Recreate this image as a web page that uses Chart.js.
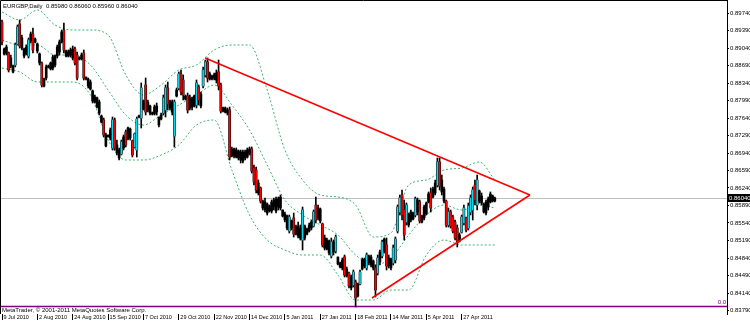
<!DOCTYPE html>
<html>
<head>
<meta charset="utf-8">
<script src="https://cdn.jsdelivr.net/npm/chart.js@4.4.0/dist/chart.umd.min.js"></script>
<style>
html, body { margin: 0; padding: 0; background: #fff; overflow: hidden; }
</style>
</head>
<body>
<canvas id="mtChart" width="750" height="324"></canvas>
<script>
const symbolName = 'EURGBP,Daily';
const dateLabels = ['9 Jul 2010', '2 Aug 2010', '24 Aug 2010', '15 Sep 2010', '7 Oct 2010', '29 Oct 2010', '22 Nov 2010',
    '14 Dec 2010', '5 Jan 2011', '27 Jan 2011', '18 Feb 2011', '14 Mar 2011', '5 Apr 2011', '27 Apr 2011'];
const barsPerDateLabel = 16;
const yTicks = [0.8974, 0.8939, 0.8904, 0.8869, 0.8834, 0.8799, 0.8764, 0.8729, 0.8694,
    0.8659, 0.8624, 0.8589, 0.8554, 0.8519, 0.8484, 0.8449, 0.8414, 0.8379];

const high = [0.8960,0.8904,0.8910,0.8896,0.8890,0.8870,0.8914,0.8950,0.8960,0.8930,
    0.8904,0.8910,0.8924,0.8936,0.8944,0.8924,0.8914,0.8894,0.8876,0.8844,
    0.8870,0.8870,0.8876,0.8890,0.8890,0.8910,0.8920,0.8940,0.8954,0.8900,
    0.8900,0.8904,0.8908,0.8906,0.8896,0.8886,0.8894,0.8900,0.8846,0.8844,
    0.8840,0.8820,0.8810,0.8806,0.8800,0.8770,0.8764,0.8734,0.8730,0.8744,
    0.8766,0.8764,0.8720,0.8704,0.8720,0.8730,0.8740,0.8746,0.8744,0.8720,
    0.8734,0.8766,0.8770,0.8834,0.8800,0.8844,0.8800,0.8790,0.8776,0.8790,
    0.8794,0.8766,0.8774,0.8810,0.8830,0.8836,0.8800,0.8800,0.8800,0.8824,
    0.8856,0.8860,0.8850,0.8810,0.8814,0.8810,0.8806,0.8810,0.8840,0.8830,
    0.8816,0.8866,0.8880,0.8884,0.8856,0.8850,0.8854,0.8860,0.8880,0.8834,
    0.8786,0.8786,0.8784,0.8786,0.8706,0.8704,0.8704,0.8700,0.8700,0.8700,
    0.8700,0.8704,0.8706,0.8706,0.8670,0.8666,0.8640,0.8626,0.8600,0.8604,
    0.8594,0.8590,0.8600,0.8604,0.8606,0.8606,0.8610,0.8580,0.8576,0.8570,
    0.8570,0.8560,0.8574,0.8550,0.8556,0.8550,0.8586,0.8550,0.8544,0.8554,
    0.8560,0.8580,0.8606,0.8590,0.8584,0.8554,0.8530,0.8524,0.8520,0.8524,
    0.8520,0.8530,0.8486,0.8476,0.8484,0.8490,0.8466,0.8456,0.8450,0.8460,
    0.8440,0.8434,0.8460,0.8484,0.8484,0.8494,0.8490,0.8490,0.8480,0.8470,
    0.8490,0.8500,0.8520,0.8524,0.8524,0.8490,0.8484,0.8510,0.8526,0.8590,
    0.8610,0.8620,0.8600,0.8594,0.8574,0.8580,0.8576,0.8606,0.8604,0.8600,
    0.8570,0.8590,0.8596,0.8616,0.8624,0.8626,0.8640,0.8684,0.8684,0.8650,
    0.8626,0.8600,0.8584,0.8580,0.8570,0.8560,0.8550,0.8534,0.8570,0.8590,
    0.8566,0.8594,0.8610,0.8626,0.8640,0.8650,0.8620,0.8614,0.8594,0.8600,
    0.8606,0.8616,0.8610,0.8606];
const low = [0.8910,0.8890,0.8890,0.8856,0.8864,0.8854,0.8866,0.8910,0.8904,0.8900,
    0.8884,0.8890,0.8884,0.8914,0.8894,0.8914,0.8894,0.8870,0.8826,0.8826,
    0.8840,0.8864,0.8860,0.8860,0.8866,0.8884,0.8890,0.8914,0.8894,0.8886,
    0.8886,0.8886,0.8880,0.8870,0.8840,0.8880,0.8880,0.8840,0.8840,0.8824,
    0.8820,0.8794,0.8794,0.8784,0.8770,0.8754,0.8726,0.8706,0.8726,0.8720,
    0.8700,0.8700,0.8690,0.8680,0.8690,0.8700,0.8706,0.8720,0.8720,0.8686,
    0.8704,0.8686,0.8764,0.8744,0.8780,0.8770,0.8776,0.8770,0.8770,0.8770,
    0.8770,0.8746,0.8760,0.8770,0.8766,0.8780,0.8780,0.8770,0.8706,0.8806,
    0.8820,0.8810,0.8800,0.8800,0.8774,0.8780,0.8780,0.8786,0.8784,0.8790,
    0.8784,0.8824,0.8846,0.8836,0.8840,0.8840,0.8840,0.8834,0.8820,0.8774,
    0.8776,0.8774,0.8770,0.8680,0.8686,0.8684,0.8684,0.8680,0.8674,0.8674,
    0.8680,0.8684,0.8690,0.8654,0.8630,0.8614,0.8610,0.8594,0.8580,0.8576,
    0.8570,0.8576,0.8574,0.8580,0.8574,0.8580,0.8580,0.8566,0.8556,0.8540,
    0.8534,0.8540,0.8526,0.8530,0.8524,0.8520,0.8500,0.8520,0.8530,0.8536,
    0.8540,0.8546,0.8554,0.8560,0.8554,0.8506,0.8500,0.8500,0.8490,0.8484,
    0.8490,0.8494,0.8470,0.8464,0.8460,0.8446,0.8446,0.8424,0.8420,0.8426,
    0.8386,0.8406,0.8430,0.8460,0.8464,0.8460,0.8470,0.8466,0.8460,0.8406,
    0.8450,0.8470,0.8484,0.8494,0.8460,0.8464,0.8460,0.8470,0.8474,0.8534,
    0.8570,0.8560,0.8520,0.8550,0.8546,0.8556,0.8560,0.8566,0.8570,0.8554,
    0.8554,0.8560,0.8570,0.8594,0.8576,0.8604,0.8610,0.8626,0.8620,0.8610,
    0.8594,0.8546,0.8546,0.8544,0.8534,0.8520,0.8506,0.8516,0.8534,0.8550,
    0.8536,0.8540,0.8570,0.8560,0.8590,0.8580,0.8594,0.8590,0.8574,0.8570,
    0.8580,0.8594,0.8596,0.8596];
const open = [0.8956,0.8902,0.8894,0.8894,0.8868,0.8868,0.8870,0.8912,0.8952,0.8904,
    0.8902,0.8892,0.8888,0.8918,0.8932,0.8922,0.8912,0.8892,0.8874,0.8828,
    0.8844,0.8868,0.8862,0.8864,0.8870,0.8888,0.8896,0.8916,0.8940,0.8898,
    0.8888,0.8900,0.8884,0.8902,0.8890,0.8882,0.8882,0.8894,0.8846,0.8842,
    0.8836,0.8818,0.8796,0.8804,0.8796,0.8768,0.8760,0.8708,0.8730,0.8724,
    0.8704,0.8760,0.8710,0.8700,0.8692,0.8704,0.8736,0.8722,0.8742,0.8718,
    0.8706,0.8700,0.8768,0.8764,0.8782,0.8830,0.8796,0.8788,0.8772,0.8772,
    0.8788,0.8766,0.8762,0.8774,0.8780,0.8824,0.8784,0.8796,0.8728,0.8808,
    0.8824,0.8852,0.8840,0.8802,0.8808,0.8784,0.8802,0.8808,0.8790,0.8826,
    0.8812,0.8828,0.8850,0.8876,0.8852,0.8842,0.8844,0.8840,0.8856,0.8830,
    0.8778,0.8784,0.8774,0.8780,0.8688,0.8702,0.8686,0.8698,0.8696,0.8678,
    0.8696,0.8686,0.8692,0.8702,0.8664,0.8660,0.8614,0.8624,0.8598,0.8580,
    0.8592,0.8578,0.8578,0.8600,0.8578,0.8602,0.8584,0.8580,0.8572,0.8568,
    0.8538,0.8558,0.8564,0.8532,0.8548,0.8544,0.8520,0.8548,0.8532,0.8538,
    0.8556,0.8548,0.8590,0.8564,0.8582,0.8552,0.8504,0.8502,0.8518,0.8488,
    0.8516,0.8498,0.8486,0.8474,0.8464,0.8486,0.8448,0.8454,0.8446,0.8430,
    0.8436,0.8432,0.8432,0.8462,0.8482,0.8464,0.8488,0.8470,0.8478,0.8464,
    0.8454,0.8476,0.8488,0.8522,0.8510,0.8468,0.8482,0.8474,0.8480,0.8538,
    0.8576,0.8610,0.8580,0.8556,0.8572,0.8560,0.8562,0.8570,0.8600,0.8596,
    0.8568,0.8564,0.8572,0.8596,0.8614,0.8606,0.8614,0.8630,0.8676,0.8640,
    0.8622,0.8598,0.8550,0.8576,0.8566,0.8556,0.8544,0.8518,0.8536,0.8554,
    0.8564,0.8544,0.8576,0.8580,0.8630,0.8590,0.8618,0.8594,0.8592,0.8574,
    0.8602,0.8596,0.8608,0.8598];
const close = [0.8916,0.8892,0.8906,0.8860,0.8884,0.8856,0.8910,0.8946,0.8908,0.8924,
    0.8888,0.8906,0.8920,0.8932,0.8900,0.8916,0.8898,0.8874,0.8830,0.8842,
    0.8866,0.8866,0.8874,0.8886,0.8888,0.8906,0.8916,0.8936,0.8900,0.8888,
    0.8896,0.8890,0.8902,0.8874,0.8844,0.8884,0.8890,0.8844,0.8842,0.8828,
    0.8822,0.8798,0.8806,0.8786,0.8774,0.8756,0.8730,0.8730,0.8726,0.8740,
    0.8760,0.8704,0.8694,0.8684,0.8716,0.8726,0.8710,0.8744,0.8724,0.8690,
    0.8732,0.8762,0.8766,0.8824,0.8798,0.8776,0.8780,0.8774,0.8774,0.8786,
    0.8776,0.8750,0.8770,0.8804,0.8824,0.8792,0.8798,0.8776,0.8796,0.8820,
    0.8852,0.8816,0.8810,0.8808,0.8780,0.8804,0.8786,0.8788,0.8834,0.8800,
    0.8788,0.8860,0.8876,0.8844,0.8842,0.8848,0.8850,0.8854,0.8828,0.8778,
    0.8784,0.8776,0.8780,0.8686,0.8702,0.8688,0.8700,0.8684,0.8680,0.8696,
    0.8684,0.8700,0.8702,0.8658,0.8636,0.8620,0.8634,0.8598,0.8584,0.8596,
    0.8574,0.8588,0.8596,0.8586,0.8602,0.8586,0.8606,0.8568,0.8560,0.8544,
    0.8566,0.8544,0.8532,0.8546,0.8528,0.8524,0.8580,0.8524,0.8542,0.8550,
    0.8544,0.8576,0.8560,0.8584,0.8558,0.8510,0.8524,0.8520,0.8494,0.8516,
    0.8496,0.8526,0.8472,0.8466,0.8480,0.8450,0.8462,0.8428,0.8424,0.8456,
    0.8404,0.8408,0.8456,0.8480,0.8468,0.8490,0.8474,0.8486,0.8464,0.8420,
    0.8484,0.8496,0.8516,0.8498,0.8468,0.8484,0.8464,0.8504,0.8522,0.8586,
    0.8604,0.8570,0.8530,0.8590,0.8550,0.8576,0.8574,0.8602,0.8576,0.8558,
    0.8556,0.8586,0.8594,0.8612,0.8584,0.8622,0.8634,0.8676,0.8628,0.8616,
    0.8598,0.8550,0.8576,0.8548,0.8538,0.8524,0.8514,0.8530,0.8566,0.8584,
    0.8540,0.8588,0.8604,0.8620,0.8600,0.8640,0.8598,0.8608,0.8576,0.8596,
    0.8586,0.8612,0.8598,0.8604];

// bollinger bands, read every 8 bars
const bandIdx = [0,8,16,24,32,40,48,56,64,72,80,88,96,104,112,120,128,136,144,152,160,168,176,184,192,200,208,216,223];
const bandUpper = [0.8976,0.8960,0.8980,0.8950,0.8940,0.8940,0.8930,0.8850,0.8810,0.8830,0.8860,0.8870,0.8900,0.8910,
    0.8910,0.8820,0.8700,0.8640,0.8610,0.8606,0.8590,0.8526,0.8534,0.8630,0.8640,0.8660,0.8664,0.8676,0.8640];
const bandMiddle = [0.8920,0.8910,0.8910,0.8890,0.8890,0.8870,0.8820,0.8770,0.8750,0.8770,0.8790,0.8810,0.8830,0.8790,
    0.8740,0.8670,0.8600,0.8570,0.8550,0.8530,0.8490,0.8470,0.8484,0.8530,0.8570,0.8590,0.8580,0.8590,0.8584];
const bandLower = [0.8864,0.8856,0.8836,0.8836,0.8836,0.8810,0.8720,0.8680,0.8680,0.8690,0.8710,0.8750,0.8760,0.8660,
    0.8570,0.8520,0.8500,0.8490,0.8490,0.8450,0.8400,0.8400,0.8420,0.8420,0.8490,0.8520,0.8510,0.8510,0.8510];

// triangle drawn on the chart: bar index and price of its corners
const trendIdx = [91.9, 238.9, 167.4];
const trendPrice = [0.8884, 0.8610, 0.8404];
const levelValue = 0.8388;

const lastBar = close.length - 1;
const lastPrice = close[lastBar];
const fmt = v => v.toFixed(5);
const FONT = 'Liberation Sans';

const wickData = high.map((h, i) => ({ x: i, y: [low[i], h] }));
const bodyData = open.map((o, i) => ({ x: i, y: [o, close[i]] }));
const accentColors = open.map((o, i) => Math.abs(close[i] - o) < 0.0024 ? 'rgba(0,0,0,0)' : (close[i] > o ? '#12d6ea' : '#ff0000'));
const bandPoints = arr => arr.map((v, k) => ({ x: bandIdx[k], y: v }));

const mtPlugin = {
    id: 'mtPlugin',
    beforeDatasetsDraw(chart) {
        const { ctx, chartArea: a, scales: { y } } = chart;
        ctx.save();
        const py = Math.round(y.getPixelForValue(lastPrice)) + 0.5;
        ctx.strokeStyle = '#c0c0c0';
        ctx.lineWidth = 1;
        ctx.beginPath(); ctx.moveTo(a.left, py); ctx.lineTo(a.right, py); ctx.stroke();
        const ly = Math.round(y.getPixelForValue(levelValue)) + 0.5;
        ctx.strokeStyle = '#800080';
        ctx.lineWidth = 1.5;
        ctx.beginPath(); ctx.moveTo(a.left, ly); ctx.lineTo(a.right, ly); ctx.stroke();
        ctx.restore();
    },
    afterDraw(chart) {
        const { ctx, chartArea: a, scales: { y } } = chart;
        ctx.save();
        ctx.strokeStyle = '#000';
        ctx.lineWidth = 1;
        ctx.beginPath();
        ctx.moveTo(a.left + 0.5, a.bottom); ctx.lineTo(a.left + 0.5, a.top + 0.5); ctx.lineTo(a.right, a.top + 0.5);
        ctx.stroke();
        ctx.font = '6px "' + FONT + '"';
        ctx.fillStyle = '#000';
        ctx.textBaseline = 'middle';
        ctx.textAlign = 'left';
        const title = symbolName + '  ' + [open[lastBar], high[lastBar], low[lastBar], close[lastBar]].map(fmt).join(' ');
        ctx.fillText(title, 3, 6);
        ctx.fillText('MetaTrader, \u00a9 2001-2011 MetaQuotes Software Corp.', 2, 310);
        const ly = y.getPixelForValue(levelValue);
        ctx.fillStyle = '#800080';
        ctx.textAlign = 'right';
        ctx.fillText('0.0', a.right - 1, ly - 4);
        // current price box
        const py = Math.round(y.getPixelForValue(lastPrice));
        ctx.fillStyle = '#000';
        ctx.fillRect(a.right + 1, py - 4, 750 - a.right - 1, 8);
        ctx.fillStyle = '#fff';
        ctx.textAlign = 'left';
        ctx.fillText(fmt(lastPrice), a.right + 2, py + 0.5);
        ctx.restore();
    }
};

new Chart(document.getElementById('mtChart'), {
    type: 'bar',
    data: {
        datasets: [
            { type: 'line', data: bandPoints(bandUpper), borderColor: '#3cb371', borderWidth: 1, borderDash: [2, 2], pointRadius: 0, cubicInterpolationMode: 'monotone', order: 6 },
            { type: 'line', data: bandPoints(bandMiddle), borderColor: '#3cb371', borderWidth: 1, borderDash: [2, 2], pointRadius: 0, cubicInterpolationMode: 'monotone', order: 6 },
            { type: 'line', data: bandPoints(bandLower), borderColor: '#3cb371', borderWidth: 1, borderDash: [2, 2], pointRadius: 0, cubicInterpolationMode: 'monotone', order: 6 },
            { data: wickData, backgroundColor: '#000', barThickness: 1, grouped: false, order: 5 },
            { data: bodyData, backgroundColor: '#000', barThickness: 2, minBarLength: 1, grouped: false, order: 4 },
            { data: bodyData, backgroundColor: accentColors, barThickness: 1, grouped: false, order: 3 },
            { type: 'line', data: [{ x: trendIdx[0], y: trendPrice[0] }, { x: trendIdx[1], y: trendPrice[1] }], borderColor: '#ff0000', borderWidth: 1.6, pointRadius: 0, order: 1 },
            { type: 'line', data: [{ x: trendIdx[2], y: trendPrice[2] }, { x: trendIdx[1], y: trendPrice[1] }], borderColor: '#ff0000', borderWidth: 1.6, pointRadius: 0, order: 1 }
        ]
    },
    options: {
        responsive: false,
        animation: false,
        devicePixelRatio: 1,
        layout: { padding: 0 },
        plugins: { legend: { display: false }, tooltip: { enabled: false } },
        scales: {
            x: {
                type: 'linear',
                offset: false,
                min: -0.905,
                max: 328.05,
                afterFit: s => { s.height = 10; s.paddingLeft = 0; s.paddingRight = 0; },
                afterBuildTicks: s => { s.ticks = dateLabels.map((d, k) => ({ value: k * barsPerDateLabel })); },
                ticks: {
                    callback: v => ' ' + dateLabels[Math.round(v / barsPerDateLabel)],
                    align: 'start', maxRotation: 0, autoSkip: false, padding: -6,
                    color: '#000', font: { family: FONT, size: 5.5 }
                },
                grid: { offset: false, drawOnChartArea: false, drawTicks: true, tickLength: 6, color: '#000' },
                border: { display: false }
            },
            y: {
                position: 'right',
                min: 0.8372,
                max: 0.9,
                afterFit: s => { s.width = 23; s.paddingTop = 0; s.paddingBottom = 0; },
                afterBuildTicks: s => { s.ticks = yTicks.map(v => ({ value: v })); },
                ticks: { callback: v => fmt(v), padding: 1, color: '#000', font: { family: FONT, size: 6 } },
                grid: { drawOnChartArea: false, tickLength: 2, color: '#000' },
                border: { display: true, color: '#000', width: 1 }
            }
        }
    },
    plugins: [mtPlugin]
});
</script>
</body>
</html>
